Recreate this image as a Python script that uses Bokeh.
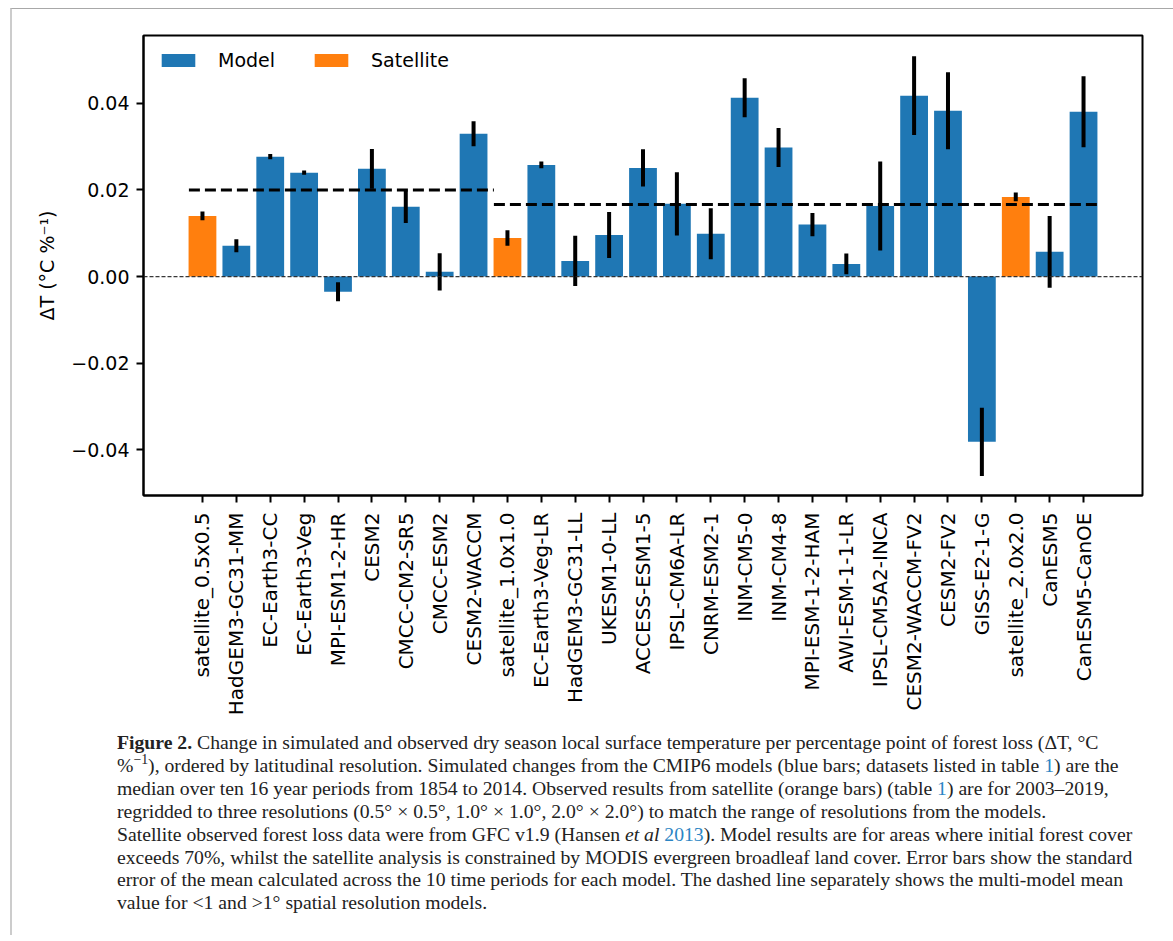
import math
from bokeh.plotting import figure
from bokeh.models import (ColumnDataSource, Range1d, FixedTicker, CustomJSTickFormatter,
                          Span, Div, Legend, LegendItem)
from bokeh.layouts import column
from bokeh.embed import file_html
from bokeh.resources import INLINE

# ---------------- data ----------------
names = ["satellite_0.5x0.5", "HadGEM3-GC31-MM", "EC-Earth3-CC", "EC-Earth3-Veg",
         "MPI-ESM1-2-HR", "CESM2", "CMCC-CM2-SR5", "CMCC-ESM2", "CESM2-WACCM",
         "satellite_1.0x1.0", "EC-Earth3-Veg-LR", "HadGEM3-GC31-LL", "UKESM1-0-LL",
         "ACCESS-ESM1-5", "IPSL-CM6A-LR", "CNRM-ESM2-1", "INM-CM5-0", "INM-CM4-8",
         "MPI-ESM-1-2-HAM", "AWI-ESM-1-1-LR", "IPSL-CM5A2-INCA", "CESM2-WACCM-FV2",
         "CESM2-FV2", "GISS-E2-1-G", "satellite_2.0x2.0", "CanESM5", "CanESM5-CanOE"]
kinds = ["Satellite", "Model", "Model", "Model", "Model", "Model", "Model", "Model", "Model",
         "Satellite", "Model", "Model", "Model", "Model", "Model", "Model", "Model", "Model",
         "Model", "Model", "Model", "Model", "Model", "Model", "Satellite", "Model", "Model"]
values = [0.0140, 0.0071, 0.0277, 0.0240, -0.0035, 0.0249, 0.0161, 0.0011, 0.0330,
          0.0089, 0.0258, 0.0036, 0.0096, 0.0251, 0.0168, 0.0099, 0.0413, 0.0298,
          0.0120, 0.0029, 0.0163, 0.0418, 0.0383, -0.0382, 0.0184, 0.0057, 0.0381]
errors = [0.0010, 0.0015, 0.0006, 0.0005, 0.0022, 0.0046, 0.0037, 0.0043, 0.0029,
          0.0018, 0.0008, 0.0058, 0.0053, 0.0043, 0.0073, 0.0059, 0.0045, 0.0045,
          0.0027, 0.0024, 0.0103, 0.0091, 0.0089, 0.0079, 0.0010, 0.0083, 0.0082]
# multi-model means for <1 and >1 degree resolution groups
mean_x_start = [-0.4, 8.6]
mean_x_end = [8.6, 26.5]
mean_values = [0.0200, 0.01665]
y_ticks = [-0.04, -0.02, 0.0, 0.02, 0.04]

colors = {"Model": "#1f77b4", "Satellite": "#ff7f0e"}
FONT = "DejaVu Sans"

xs = list(range(len(names)))

p = figure(output_backend="svg", toolbar_location=None,
           frame_width=999, frame_height=460,
           min_border_left=131, min_border_right=23, min_border_top=26, min_border_bottom=225,
           x_range=Range1d(-1.74, 27.74), y_range=Range1d(-0.0506, 0.0557))
p.background_fill_color = "white"
p.border_fill_color = "white"
p.outline_line_color = "black"
p.outline_line_width = 2
p.xgrid.visible = False
p.ygrid.visible = False

renderers = {}
for kind in ["Model", "Satellite"]:
    idx = [i for i, k in enumerate(kinds) if k == kind]
    src = ColumnDataSource(dict(x=[xs[i] for i in idx], top=[values[i] for i in idx]))
    renderers[kind] = p.vbar(x="x", top="top", bottom=0, width=0.82, source=src,
                             fill_color=colors[kind], line_color=None)

# zero line
p.add_layout(Span(location=0, dimension="width", line_color="#222222", line_width=1.3,
                  line_dash="4 2", line_alpha=0.9))

# mean dashed lines
for x0, x1, m in zip(mean_x_start, mean_x_end, mean_values):
    p.line([x0, x1], [m, m], line_color="black", line_width=3, line_dash="11 5")

# error bars
err_src = ColumnDataSource(dict(x=xs, lo=[v - e for v, e in zip(values, errors)],
                                hi=[v + e for v, e in zip(values, errors)]))
p.segment(x0="x", y0="lo", x1="x", y1="hi", source=err_src, line_color="black",
          line_width=4, line_cap="butt")

# axes
p.xaxis.ticker = FixedTicker(ticks=xs)
p.xaxis.major_label_overrides = {i: n for i, n in zip(xs, names)}
p.xaxis.major_label_orientation = math.pi / 2
p.yaxis.ticker = FixedTicker(ticks=y_ticks)
p.yaxis.formatter = CustomJSTickFormatter(
    code="return (tick < -1e-12 ? '\u2212' : '') + Math.abs(tick).toFixed(2);")
p.yaxis.axis_label = "ΔT (°C %⁻¹)"
for ax in (p.xaxis[0], p.yaxis[0]):
    ax.axis_line_color = "black"
    ax.axis_line_width = 2
    ax.major_tick_line_color = "black"
    ax.major_tick_line_width = 2
    ax.major_tick_out = 7
    ax.major_tick_in = 0
    ax.minor_tick_line_color = None
    ax.major_label_text_font = FONT
    ax.major_label_text_font_size = "19px"
    ax.major_label_text_color = "black"
    ax.major_label_standoff = 7
    ax.axis_label_text_font = FONT
    ax.axis_label_text_font_size = "19px"
    ax.axis_label_text_font_style = "normal"
    ax.axis_label_text_color = "black"
p.xaxis.major_label_text_font_size = "20px"
p.xaxis.major_label_standoff = 10
p.yaxis.axis_label_standoff = 10

legend = Legend(items=[LegendItem(label="Model", renderers=[renderers["Model"]]),
                       LegendItem(label="Satellite", renderers=[renderers["Satellite"]])],
                orientation="horizontal", location="top_left")
legend.glyph_width = 42
legend.glyph_height = 16
legend.label_standoff = 19
legend.spacing = 35
legend.margin = 12
legend.padding = 2
legend.border_line_alpha = 0
legend.background_fill_alpha = 0
legend.label_text_font = FONT
legend.label_text_font_size = "19px"
legend.label_text_color = "black"
p.add_layout(legend)

link = "color:#2b85c4;"
caption_html = (
    '<div style="font-family:\'Liberation Serif\', serif; font-size:19.7px; line-height:22.9px; '
    'color:#222; white-space:nowrap; padding-left:100px; padding-top:6px;">'
    '<b>Figure 2.</b> Change in simulated and observed dry season local surface temperature per percentage point of forest loss (ΔT, °C<br>'
    '%<span style="vertical-align:super; font-size:0.7em; line-height:0">−1</span>), ordered by latitudinal resolution. '
    'Simulated changes from the CMIP6 models (blue bars; datasets listed in table <span style="' + link + '">1</span>) are the<br>'
    'median over ten 16 year periods from 1854 to 2014. Observed results from satellite (orange bars) (table '
    '<span style="' + link + '">1</span>) are for 2003–2019,<br>'
    'regridded to three resolutions (0.5° × 0.5°, 1.0° × 1.0°, 2.0° × 2.0°) to match the range of resolutions from the models.<br>'
    'Satellite observed forest loss data were from GFC v1.9 (Hansen <i>et al</i> <span style="' + link + '">2013</span>). '
    'Model results are for areas where initial forest cover<br>'
    'exceeds 70%, whilst the satellite analysis is constrained by MODIS evergreen broadleaf land cover. Error bars show the standard<br>'
    'error of the mean calculated across the 10 time periods for each model. The dashed line separately shows the multi-model mean<br>'
    'value for &lt;1 and &gt;1° spatial resolution models.'
    '</div>'
)
caption = Div(text=caption_html, width=1153, height=205)

layout = column(p, caption, styles={"border-top": "1px solid #a8a8a8",
                                     "border-left": "2px solid #cccccc",
                                     "border-right": "2px solid #cccccc",
                                     "margin-left": "10px",
                                     "margin-top": "8px"})

open("out.html", "w").write(file_html(layout, INLINE))
